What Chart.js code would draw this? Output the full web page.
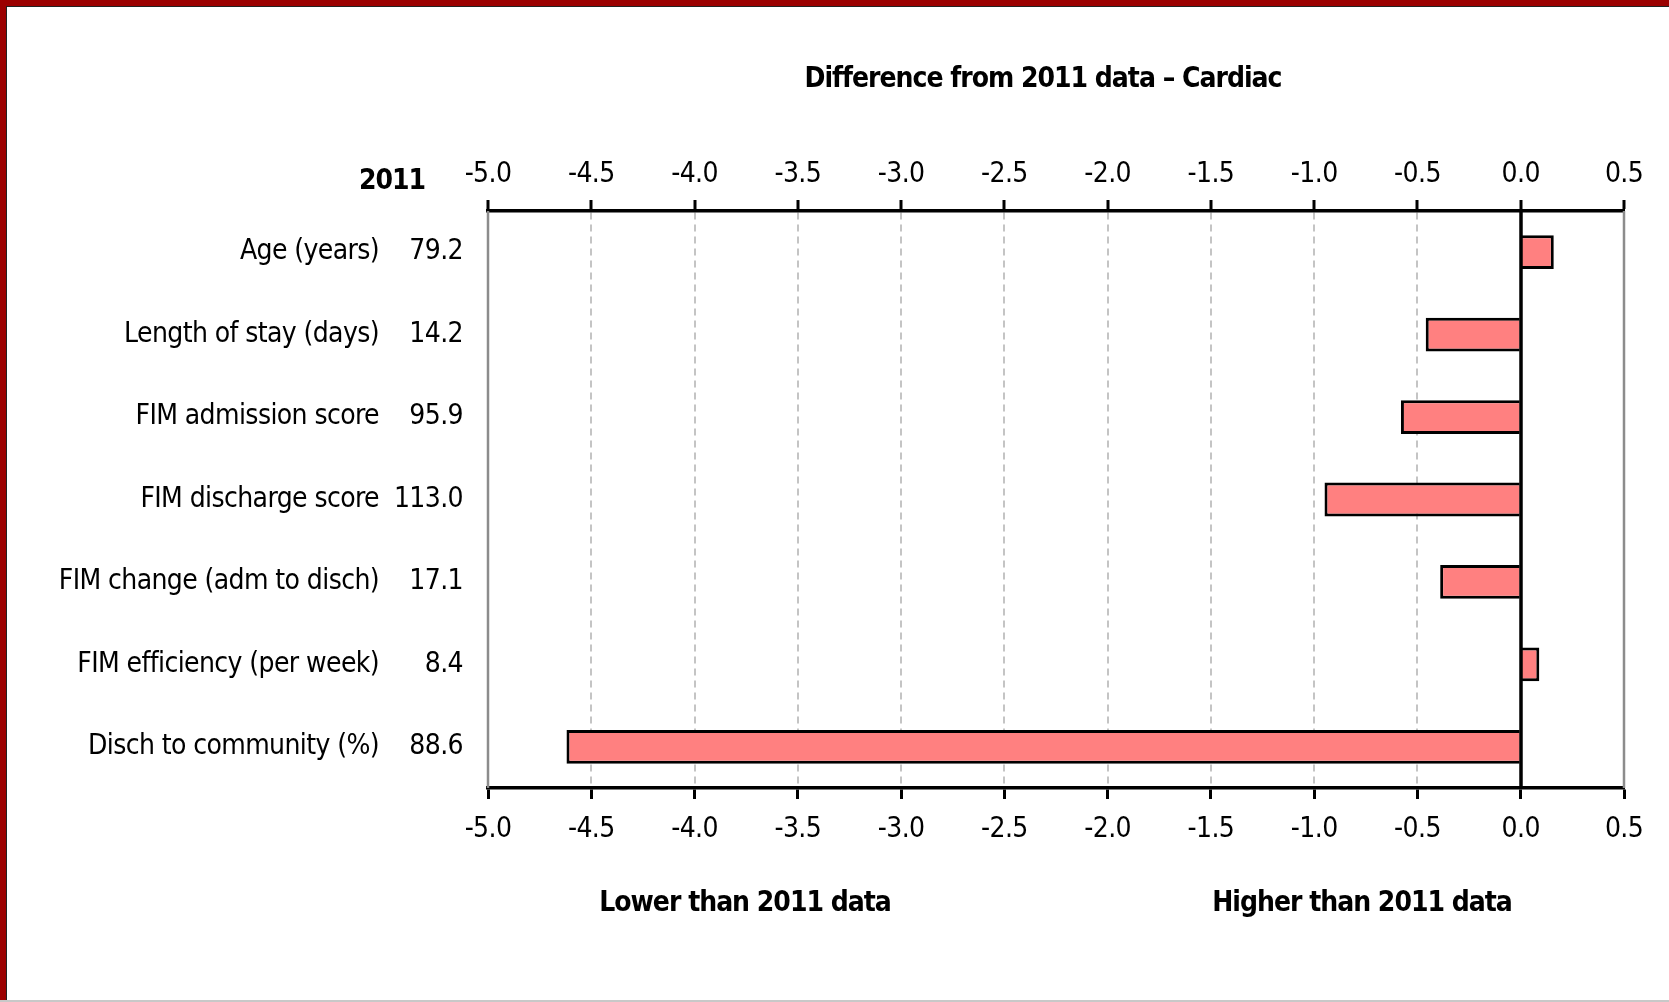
<!DOCTYPE html>
<html>
<head>
<meta charset="utf-8">
<script src="https://cdn.jsdelivr.net/npm/chart.js@4.4.1/dist/chart.umd.min.js"></script>
<style>
  html, body { margin: 0; padding: 0; background: #fff; }
  canvas { display: block; }
</style>
</head>
<body>
<canvas id="diffChart" width="1669" height="1002"></canvas>
<script>
const categories = [
    "Age (years)",
    "Length of stay (days)",
    "FIM admission score",
    "FIM discharge score",
    "FIM change (adm to disch)",
    "FIM efficiency (per week)",
    "Disch to community (%)",
];
const values2011 = ["79.2", "14.2", "95.9", "113.0", "17.1", "8.4", "88.6"];
const difference = [0.16, -0.46, -0.58, -0.95, -0.39, 0.09, -4.62];

const axisMin = -5.0;
const axisMax = 0.5;
const axisStep = 0.5;

const chartTitle = "Difference from 2011 data \u2013 Cardiac";
const columnHeader = "2011";
const lowerLabel = "Lower than 2011 data";
const higherLabel = "Higher than 2011 data";

const FONT = "'Liberation Sans Narrow', 'DejaVu Sans Condensed', 'Liberation Sans', sans-serif";
const TIGHT = "-0.6px"; // the original font is narrow, tighten the condensed one a little

// red frame round the picture, grey rule at the bottom
const framePlugin = {
    id: "frame",
    beforeUpdate(chart) {
        chart.ctx.letterSpacing = TIGHT;
    },
    beforeDraw(chart) {
        const { ctx, width, height } = chart;
        ctx.letterSpacing = TIGHT;
        ctx.save();
        ctx.fillStyle = "#ffffff";
        ctx.fillRect(0, 0, width, height);
        ctx.fillStyle = "#9b0000";
        ctx.fillRect(0, 0, width, 6);
        ctx.fillRect(0, 0, 6, height);
        ctx.fillStyle = "#222";
        ctx.fillRect(6, 6, width - 6, 1);
        ctx.fillRect(6, 6, 1, height - 6);
        ctx.fillStyle = "#c8c8c8";
        ctx.fillRect(0, height - 2, width, 2);
        ctx.restore();
    },
};

// solid edge lines and zero line (grid lines are all dashed in v4)
const axisLinesPlugin = {
    id: "axisLines",
    beforeDatasetsDraw(chart) {
        const { ctx, chartArea: a, scales: { x } } = chart;
        ctx.save();
        ctx.strokeStyle = "#8c8c8c";
        ctx.lineWidth = 2.5;
        [axisMin, axisMax].forEach(v => {
            const px = Math.round(x.getPixelForValue(v));
            ctx.beginPath();
            ctx.moveTo(px, a.top);
            ctx.lineTo(px, a.bottom);
            ctx.stroke();
        });
        ctx.restore();
    },
    afterDatasetsDraw(chart) {
        const { ctx, chartArea: a, scales: { x } } = chart;
        const px = Math.round(x.getPixelForValue(0));
        ctx.save();
        ctx.strokeStyle = "#000";
        ctx.lineWidth = 3.5;
        ctx.beginPath();
        ctx.moveTo(px, a.top);
        ctx.lineTo(px, a.bottom);
        ctx.stroke();
        ctx.restore();
    },
};

const textPlugin = {
    id: "texts",
    afterDraw(chart) {
        const { ctx, chartArea: a, scales: { y } } = chart;
        ctx.save();
        ctx.fillStyle = "#000";
        ctx.textBaseline = "middle";

        ctx.letterSpacing = "-1px";
        ctx.font = "bold 28px " + FONT;
        ctx.textAlign = "center";
        ctx.fillText(chartTitle, (a.left + a.right) / 2 - 13, 80);
        ctx.fillText(columnHeader, a.left - 96, a.top - 29);
        ctx.fillText(lowerLabel, a.left + 257, a.bottom + 116);
        ctx.fillText(higherLabel, a.left + 874, a.bottom + 116);

        ctx.letterSpacing = TIGHT;
        ctx.font = "28px " + FONT;
        ctx.textAlign = "right";
        values2011.forEach((v, i) => {
            ctx.fillText(v, a.left - 25, y.getPixelForValue(i));
        });
        ctx.restore();
    },
};

const edgeOrZero = v => v === 0 || v === axisMin || v === axisMax;

const tickFont = { family: FONT, size: 28 };

new Chart(document.getElementById("diffChart"), {
    type: "bar",
    data: {
        labels: categories,
        datasets: [{
            data: difference,
            backgroundColor: "#ff8080",
            borderColor: "#000",
            borderWidth: 3,
            borderSkipped: "start",
            categoryPercentage: 1.0,
            barPercentage: 0.41,
            xAxisID: "x",
        }],
    },
    options: {
        indexAxis: "y",
        responsive: false,
        animation: false,
        devicePixelRatio: 1,
        layout: { padding: { left: 0, right: 45, top: 0, bottom: 0 } },
        plugins: {
            legend: { display: false },
            tooltip: { enabled: false },
        },
        scales: {
            x: {
                position: "top",
                min: axisMin,
                max: axisMax,
                afterFit(scale) { scale.height = 211; },
                ticks: {
                    stepSize: axisStep,
                    color: "#000",
                    font: tickFont,
                    padding: 8,
                    maxRotation: 0,
                    callback: v => Number(v).toFixed(1),
                },
                grid: {
                    color: c => (c.tick && edgeOrZero(c.tick.value)) ? "rgba(0,0,0,0)" : "#c4c4c4",
                    lineWidth: 2,
                    tickColor: "#000",
                    tickWidth: 3,
                    tickLength: 11,
                },
                border: { display: true, color: "#000", width: 3.5, dash: [7, 5] },
            },
            x2: {
                position: "bottom",
                type: "linear",
                min: axisMin,
                max: axisMax,
                afterFit(scale) { scale.height = 214; },
                ticks: {
                    stepSize: axisStep,
                    color: "#000",
                    font: tickFont,
                    padding: 14,
                    maxRotation: 0,
                    callback: v => Number(v).toFixed(1),
                },
                grid: {
                    drawOnChartArea: false,
                    tickColor: "#000",
                    tickWidth: 3,
                    tickLength: 11,
                },
                border: { display: true, color: "#000", width: 3.5 },
            },
            y: {
                afterFit(scale) { scale.width = 488; },
                ticks: {
                    color: "#000",
                    font: tickFont,
                    padding: 109,
                },
                grid: { display: false, drawTicks: false },
                border: { display: false },
            },
        },
    },
    plugins: [framePlugin, axisLinesPlugin, textPlugin],
});
</script>
</body>
</html>
